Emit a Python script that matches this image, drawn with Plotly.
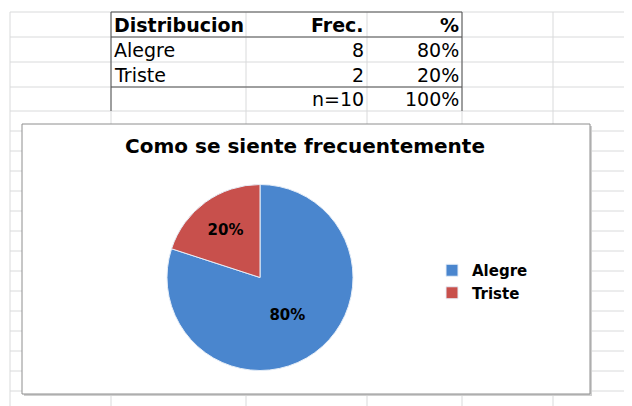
import plotly.graph_objects as go

# ---------------- data ----------------
categories = ["Alegre", "Triste"]
frecuencias = [8, 2]
table_header = ["Distribucion", "Frec.", "%"]
chart_title = "Como se siente frecuentemente"
slice_colors = ["#4A86CE", "#C8504C"]

total = sum(frecuencias)
pct_labels = [f"{round(100 * v / total)}%" for v in frecuencias]
total_row = ["", f"n={total}", "100%"]

# ---------------- geometry helpers ----------------
# the page body has an 8px margin, so the figure occupies 8..632 x 8..406
OFF = 8
W, H = 632 - OFF, 406 - OFF


def px(x):
    return (x - OFF) / W


def py(y):
    return 1 - (y - OFF) / H


GRID = "#D9DADB"
DARK = "#505050"
FONT = "DejaVu Sans"

shapes = []


def hline(y, x0, x1, color=GRID, width=1):
    shapes.append(dict(type="line", xref="paper", yref="paper",
                       x0=px(x0), x1=px(x1), y0=py(y), y1=py(y),
                       line=dict(color=color, width=width), layer="below"))


def vline(x, y0, y1, color=GRID, width=1):
    shapes.append(dict(type="line", xref="paper", yref="paper",
                       x0=px(x), x1=px(x), y0=py(y0), y1=py(y1),
                       line=dict(color=color, width=width), layer="below"))


# spreadsheet grid
col_x = [10, 111, 246, 367, 462, 553]
row_y = [12, 37, 62, 87, 111] + list(range(131, 400, 20))
for x in col_x:
    vline(x, 12, 406)
for y in row_y:
    hline(y, 10, 632)

# table borders (dark)
for y in [12, 37, 87]:
    hline(y, 111, 462, DARK)
for x in [111, 462]:
    vline(x, 12, 111, DARK)

# chart area with a light shadow
shapes.append(dict(type="rect", xref="paper", yref="paper",
                   x0=px(24), x1=px(592), y0=py(126), y1=py(396),
                   line=dict(width=0), fillcolor="#CFCFCF", layer="below"))
shapes.append(dict(type="rect", xref="paper", yref="paper",
                   x0=px(22), x1=px(590), y0=py(124), y1=py(394),
                   line=dict(color="#8E8E8E", width=1), fillcolor="white",
                   layer="below"))

# ---------------- table text ----------------
annotations = []
row_centers = [24.5, 49.5, 74.5, 99]
col_anchor = [(113, "left"), (365, "right"), (460, "right")]

rows = [table_header]
for c, f, p in zip(categories, frecuencias, pct_labels):
    rows.append([c, str(f), p])
rows.append(total_row)

for ri, row in enumerate(rows):
    for ci, txt in enumerate(row):
        if not txt:
            continue
        xa, anchor = col_anchor[ci]
        annotations.append(dict(
            x=px(xa), y=py(row_centers[ri]), xref="paper", yref="paper",
            text=txt, showarrow=False, xanchor=anchor, yanchor="middle",
            borderpad=0,
            font=dict(family=FONT, size=19, color="black",
                      weight="bold" if ri == 0 else "normal")))

# ---------------- pie ----------------
cx, cy, r = 260, 277.5, 93
fig = go.Figure(go.Pie(
    labels=categories,
    values=frecuencias,
    sort=False,
    direction="clockwise",
    rotation=0,
    marker=dict(colors=slice_colors, line=dict(color="#E6EEF8", width=1)),
    texttemplate="%{percent:.0%}",
    textposition="inside",
    insidetextorientation="horizontal",
    textfont=dict(family=FONT, size=15, color="black", weight="bold"),
    domain=dict(x=[px(cx - r), px(cx + r)], y=[py(cy + r), py(cy - r)]),
    hoverinfo="label+value+percent",
))

fig.update_layout(
    width=W, height=H,
    margin=dict(l=0, r=0, t=0, b=0),
    paper_bgcolor="white",
    plot_bgcolor="white",
    shapes=shapes,
    annotations=annotations,
    title=dict(text=chart_title, x=px(305), y=py(146),
               xanchor="center", yanchor="middle",
               font=dict(family=FONT, size=20, color="black", weight="bold")),
    showlegend=True,
    legend=dict(x=px(432), y=py(281.5), xanchor="left", yanchor="middle",
                bgcolor="rgba(0,0,0,0)",
                font=dict(family=FONT, size=15, color="black", weight="bold")),
)

fig.write_html("out.html")
